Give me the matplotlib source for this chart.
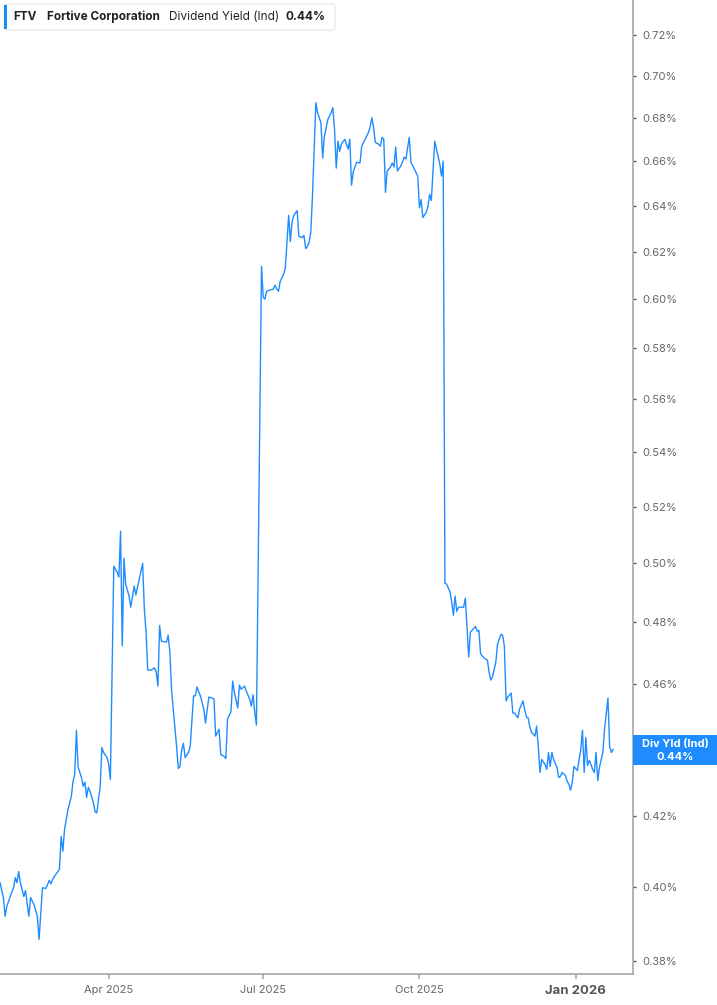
import numpy as np
import pandas as pd
import matplotlib
matplotlib.use("Agg")
import matplotlib.pyplot as plt
from matplotlib.patches import FancyBboxPatch, Rectangle
from matplotlib.ticker import FixedLocator, NullLocator, FuncFormatter

plt.rcParams['font.family'] = ['Inter', 'DejaVu Sans']

# FTV dividend yield (%)
q1_days = ['01-27', '01-29', '01-30', '01-31', '02-03', '02-04', '02-05', '02-06', '02-07', '02-08',
           '02-10', '02-11', '02-13', '02-14', '02-16', '02-18', '02-19', '02-21', '02-23', '02-25',
           '02-26', '02-27', '02-28', '03-03', '03-04', '03-05', '03-06', '03-08', '03-10', '03-11',
           '03-12', '03-13', '03-14', '03-16', '03-17', '03-18', '03-19', '03-20', '03-21', '03-23',
           '03-24', '03-25', '03-27', '03-28', '03-29', '03-31']
q1_vals = [.4011, .3970, .3919, .3946, .3986, .3997, .4025, .4011, .4042, .4011,
           .3973, .3989, .3919, .3970, .3951, .3919, .3857, .3997, .3995, .4017,
           .4008, .4020, .4028, .4048, .4141, .4099, .4161, .4218, .4257, .4301,
           .4322, .4456, .4343, .4313, .4287, .4299, .4254, .4284, .4272, .4239,
           .4212, .4209, .4287, .4403, .4388, .4373]

q2_days = ['04-01', '04-02', '04-04', '04-06', '04-07', '04-08', '04-09', '04-10', '04-11', '04-13',
           '04-14', '04-16', '04-17', '04-18', '04-21', '04-22', '04-23', '04-24', '04-26', '04-28',
           '04-29', '04-30', '05-01', '05-02', '05-05', '05-06', '05-07', '05-08', '05-09', '05-11',
           '05-12', '05-13', '05-14', '05-15', '05-16', '05-18', '05-19', '05-21', '05-22', '05-23',
           '05-25', '05-27', '05-28', '05-30', '06-01', '06-02', '06-03', '06-05', '06-06', '06-08',
           '06-09', '06-10', '06-12', '06-13', '06-14', '06-16', '06-17', '06-18', '06-20', '06-21',
           '06-23', '06-24', '06-25', '06-26', '06-27', '06-30']
q2_vals = [.4352, .4307, .4990, .4969, .4953, .5112, .4723, .5018, .4929, .4888,
           .4851, .4922, .4892, .4919, .5000, .4844, .4768, .4645, .4645, .4652,
           .4639, .4594, .4790, .4739, .4735, .4758, .4706, .4584, .4522, .4406,
           .4340, .4346, .4397, .4416, .4373, .4388, .4406, .4563, .4563, .4591,
           .4563, .4522, .4478, .4559, .4556, .4553, .4438, .4459, .4382, .4376,
           .4370, .4491, .4513, .4610, .4575, .4525, .4597, .4584, .4594, .4578,
           .4553, .4531, .4566, .4513, .4472, .6138]

q3_days = ['07-01', '07-02', '07-03', '07-05', '07-07', '07-08', '07-09', '07-10', '07-11', '07-13',
           '07-14', '07-15', '07-16', '07-17', '07-18', '07-19', '07-21', '07-22', '07-24', '07-25',
           '07-26', '07-27', '07-28', '07-29', '07-30', '08-01', '08-02', '08-04', '08-05', '08-06',
           '08-07', '08-08', '08-10', '08-11', '08-12', '08-13', '08-14', '08-15', '08-16', '08-18',
           '08-20', '08-21', '08-22', '08-23', '08-25', '08-27', '08-28', '08-30', '09-01', '09-02',
           '09-03', '09-04', '09-05', '09-07', '09-08', '09-09', '09-10', '09-11', '09-12', '09-14',
           '09-15', '09-16', '09-17', '09-18', '09-20', '09-21', '09-22', '09-23', '09-25', '09-26',
           '09-28', '09-30']
q3_vals = [.6008, .6000, .6033, .6038, .6042, .6058, .6042, .6033, .6075, .6104,
           .6129, .6239, .6357, .6243, .6330, .6357, .6378, .6265, .6261, .6270,
           .6213, .6222, .6239, .6283, .6441, .6871, .6824, .6777, .6614, .6714,
           .6750, .6791, .6824, .6848, .6745, .6568, .6691, .6645, .6677, .6700,
           .6655, .6700, .6491, .6550, .6595, .6591, .6668, .6700, .6732, .6759,
           .6800, .6755, .6686, .6677, .6668, .6709, .6700, .6459, .6555, .6573,
           .6591, .6573, .6664, .6555, .6577, .6595, .6618, .6609, .6709, .6595,
           .6564, .6532]

q4_days = ['10-01', '10-02', '10-03', '10-05', '10-06', '10-07', '10-08', '10-10', '10-13', '10-14',
           '10-15', '10-16', '10-17', '10-19', '10-20', '10-21', '10-22', '10-23', '10-24', '10-27',
           '10-28', '10-29', '10-30', '10-31', '11-02', '11-03', '11-04', '11-05', '11-06', '11-08',
           '11-10', '11-11', '11-12', '11-13', '11-15', '11-16', '11-18', '11-19', '11-20', '11-21',
           '11-22', '11-24', '11-25', '11-26', '11-28', '11-29', '12-01', '12-02', '12-03', '12-04',
           '12-05', '12-06', '12-08', '12-09', '12-10', '12-11', '12-12', '12-14', '12-15', '12-16',
           '12-17', '12-18', '12-19', '12-21', '12-22', '12-23', '12-24', '12-26', '12-27', '12-28',
           '12-29', '12-30', '12-31']
q4_vals = [.6391, .6427, .6348, .6370, .6396, .6450, .6423, .6691, .6586, .6532,
           .6600, .4932, .4929, .4902, .4868, .4824, .4888, .4837, .4851, .4851,
           .4881, .4787, .4687, .4768, .4781, .4787, .4771, .4774, .4697, .4684,
           .4677, .4639, .4613, .4623, .4671, .4729, .4761, .4758, .4723, .4547,
           .4559, .4572, .4509, .4509, .4494, .4522, .4547, .4519, .4497, .4494,
           .4466, .4450, .4438, .4469, .4403, .4328, .4367, .4352, .4337, .4388,
           .4346, .4388, .4367, .4343, .4313, .4316, .4328, .4319, .4301, .4293,
           .4275, .4299, .4346]

jan26_days = ['01-02', '01-04', '01-05', '01-06', '01-07', '01-08', '01-09', '01-10', '01-11', '01-12',
              '01-13', '01-14', '01-15', '01-17', '01-18', '01-20', '01-21', '01-22', '01-23']
jan26_vals = [.4334, .4397, .4456, .4328, .4434, .4349, .4364, .4352, .4337, .4328,
              .4388, .4304, .4343, .4388, .4459, .4556, .4406, .4388, .4397]

y_ticks = [0.38, 0.40, 0.42, 0.44, 0.46, 0.48, 0.50, 0.52, 0.54, 0.56,
           0.58, 0.60, 0.62, 0.64, 0.66, 0.68, 0.70, 0.72]
x_tick_dates = ['2025-04-01', '2025-07-01', '2025-10-01', '2026-01-01']
x_tick_labels = ['Apr 2025', 'Jul 2025', 'Oct 2025', 'Jan 2026']
current_yield = 0.44

dates = pd.to_datetime(['2025-' + d for d in q1_days + q2_days + q3_days + q4_days]
                       + ['2026-' + d for d in jan26_days])
vals = np.array(q1_vals + q2_vals + q3_vals + q4_vals + jan26_vals)

W, H = 717, 1005
fig = plt.figure(figsize=(W / 100, H / 100), dpi=100)
ax = fig.add_axes([0, 31 / H, 632.7 / W, 974 / H])

line_color = '#1e8cff'
ax.plot(dates, vals, color=line_color, lw=1.0)

ax.set_yscale('log')
ax.set_ylim(0.3766, 0.7376)
ax.set_xlim(pd.Timestamp('2025-01-27'), pd.Timestamp('2026-02-03 14:00'))

for s in ['left', 'top']:
    ax.spines[s].set_visible(False)
for s in ['right', 'bottom']:
    ax.spines[s].set_color('#a6a6a6')
    ax.spines[s].set_linewidth(1.2)


def pct(v, p):
    # the 0.44% label sits under the value tag
    if abs(v - current_yield) < 1e-6:
        return ''
    return f'{v:.2f}%'


ax.yaxis.tick_right()
ax.yaxis.set_major_locator(FixedLocator(y_ticks))
ax.yaxis.set_minor_locator(NullLocator())
ax.yaxis.set_major_formatter(FuncFormatter(pct))
ax.tick_params(axis='y', which='major', direction='out', length=2.2, width=1,
               color='#555555', labelsize=8, labelcolor='#666666', pad=4.5)

ax.set_xticks(pd.to_datetime(x_tick_dates))
ax.set_xticklabels(x_tick_labels)
ax.tick_params(axis='x', direction='out', length=3.6, width=1.2, color='#a6a6a6',
               labelsize=8, labelcolor='#666666', pad=4)
last = ax.get_xticklabels()[-1]
last.set_fontweight('bold')
last.set_fontsize(9.5)
last.set_color('#555555')


# header box
def fx(px):
    return px / W


def fy(py):
    return 1 - py / H


box = FancyBboxPatch((fx(4), fy(30)), fx(331), 26 / H, boxstyle='round,pad=0,rounding_size=0.004',
                     transform=fig.transFigure, facecolor='white', edgecolor='#e4e4e4', lw=0.8, zorder=5)
fig.patches.append(box)
fig.patches.append(Rectangle((fx(4), fy(29)), fx(3), 24 / H, transform=fig.transFigure,
                             facecolor=line_color, edgecolor='none', zorder=6))
ty = fy(17)
fig.text(fx(13), ty, 'FTV', fontsize=8.5, fontweight='bold', color='#222222', va='center', zorder=7)
fig.text(fx(47), ty, 'Fortive Corporation', fontsize=8.5, fontweight='bold', color='#222222', va='center', zorder=7)
fig.text(fx(169), ty, 'Dividend Yield (Ind)', fontsize=8.5, color='#222222', va='center', zorder=7)
fig.text(fx(286), ty, f'{current_yield:.2f}%', fontsize=8.5, fontweight='bold', color='#222222',
         va='center', zorder=7)

# current value tag on the right axis
fig.patches.append(Rectangle((fx(633), fy(765)), fx(84), 30 / H, transform=fig.transFigure,
                             facecolor=line_color, edgecolor='none', zorder=6))
fig.text(fx(675), fy(744.5), 'Div Yld (Ind)', fontsize=8, fontweight='bold', color='white',
         ha='center', va='center', zorder=7)
fig.text(fx(675), fy(757), f'{current_yield:.2f}%', fontsize=8, fontweight='bold', color='white',
         ha='center', va='center', zorder=7)

fig.savefig('out.png', dpi=100)
